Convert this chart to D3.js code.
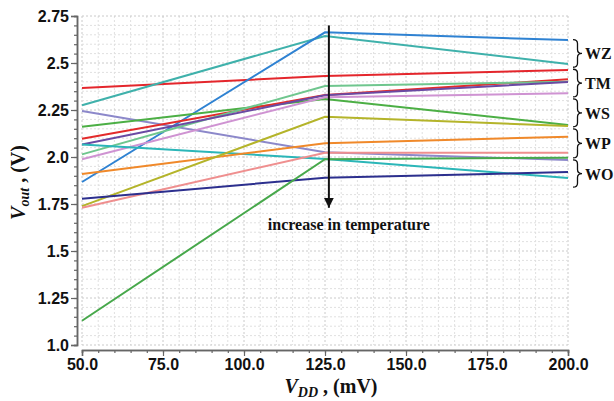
<!DOCTYPE html>
<html>
<head>
<meta charset="utf-8">
<script src="https://cdn.jsdelivr.net/npm/d3@7"></script>
<style>
  body { margin: 0; background: #fff; }
  svg { display: block; }
</style>
</head>
<body>
<div id="chart"></div>
<script>
const W = 614, H = 401;
const margin = {top: 16, right: 46, bottom: 56, left: 82};
const width = W - margin.left - margin.right;
const height = H - margin.top - margin.bottom;

// x positions of the three samples (mV)
const vdd = [50, 125, 200];

// Vout (V) at each VDD, one row per curve
const vout = [
    [2.367, 2.431, 2.463],
    [2.275, 2.644, 2.495],
    [1.867, 2.663, 2.622],
    [2.245, 2.025, 1.984],
    [2.161, 2.309, 2.170],
    [2.097, 2.330, 2.413],
    [2.014, 2.378, 2.400],
    [2.067, 2.328, 2.399],
    [1.988, 2.318, 2.339],
    [2.067, 1.990, 1.888],
    [1.910, 2.073, 2.108],
    [1.739, 2.214, 2.165],
    [1.730, 2.023, 2.023],
    [1.778, 1.890, 1.920],
    [1.129, 1.988, 1.996]
];
const colors = [
    "#e4262c", "#3fb1ab", "#2f82d2", "#8c88ca", "#4caf45",
    "#e32b2b", "#6fc68e", "#6a4aa3", "#cf93d2", "#2bb6b8",
    "#f0892a", "#b4b42a", "#ef8f8f", "#2c2f8e", "#47a84b"
];

const yTicks = [1.0, 1.25, 1.5, 1.75, 2.0, 2.25, 2.5, 2.75];
const yTickLabels = ["1.0", "1.25", "1.5", "1.75", "2.0", "2.25", "2.5", "2.75"];
const xTicks = [50, 75, 100, 125, 150, 175, 200];

// braces on the right: group name and its span in volts
const groups = ["WZ", "TM", "WS", "WP", "WO"];
const groupEdges = [2.63, 2.472, 2.314, 2.155, 1.99, 1.834];

const arrowX = 126.2;
const arrowTop = 2.7;
const arrowTip = 1.73;

var svg = d3.select("#chart")
    .append("svg")
    .attr("width", W)
    .attr("height", H)
    .append("g")
    .attr("transform", `translate(${margin.left}, ${margin.top})`);

var xScale = d3.scaleLinear().domain([50, 200]).range([0, width]);
var yScale = d3.scaleLinear().domain([1.0, 2.75]).range([height, 0]);

// dotted grid, major lines a bit darker
svg.append("g")
    .selectAll("line")
    .data(d3.range(50, 201, 5))
    .join("line")
    .attr("x1", d => xScale(d)).attr("x2", d => xScale(d))
    .attr("y1", 0).attr("y2", height)
    .attr("stroke", d => d % 25 === 0 ? "#cacaca" : "#e0e0e0")
    .attr("stroke-width", 1)
    .attr("stroke-dasharray", "2,2");

svg.append("g")
    .selectAll("line")
    .data(d3.range(0, 36).map(i => 1.0 + i * 0.05))
    .join("line")
    .attr("x1", 0).attr("x2", width)
    .attr("y1", d => yScale(d)).attr("y2", d => yScale(d))
    .attr("stroke", (d, i) => i % 5 === 0 ? "#cacaca" : "#e0e0e0")
    .attr("stroke-width", 1)
    .attr("stroke-dasharray", "2,2");

// axes, set a little off the plot area
var yAxisG = svg.append("g").attr("transform", "translate(-5, 0)");
yAxisG.call(d3.axisLeft(yScale)
        .tickValues(d3.range(0, 36).map(i => 1.0 + i * 0.05))
        .tickSize(3).tickFormat(""));
yAxisG.append("g").call(d3.axisLeft(yScale)
        .tickValues(yTicks)
        .tickSize(6)
        .tickFormat((d, i) => yTickLabels[i]));
yAxisG.selectAll("path.domain").attr("stroke", "#666").attr("stroke-width", 1.5);
yAxisG.selectAll("line").attr("stroke", "#666").attr("stroke-width", 1.2);
yAxisG.selectAll("text")
    .style("font-family", "'Liberation Sans', Arial, sans-serif")
    .style("font-weight", "bold")
    .style("font-size", "16px")
    .attr("fill", "#111")
    .attr("x", -8);

var xAxisG = svg.append("g").attr("transform", `translate(0, ${height + 5})`);
xAxisG.call(d3.axisBottom(xScale)
        .tickValues(d3.range(50, 201, 5))
        .tickSize(3).tickFormat(""));
xAxisG.append("g").call(d3.axisBottom(xScale)
        .tickValues(xTicks)
        .tickSize(6)
        .tickFormat(d => d.toFixed(1)));
xAxisG.selectAll("path.domain").attr("stroke", "#666").attr("stroke-width", 1.5);
xAxisG.selectAll("line").attr("stroke", "#666").attr("stroke-width", 1.2);
xAxisG.selectAll("text")
    .style("font-family", "'Liberation Sans', Arial, sans-serif")
    .style("font-weight", "bold")
    .style("font-size", "16px")
    .attr("fill", "#111")
    .attr("y", 9);

// curves
var line = d3.line()
    .x((d, i) => xScale(vdd[i]))
    .y(d => yScale(d));

svg.append("g")
    .selectAll("path")
    .data(vout)
    .join("path")
    .attr("fill", "none")
    .attr("stroke", (d, i) => colors[i])
    .attr("stroke-width", 2)
    .attr("d", line);

// temperature arrow
svg.append("defs").append("marker")
    .attr("id", "arrowhead")
    .attr("viewBox", "0 0 10 10")
    .attr("refX", 10).attr("refY", 5)
    .attr("markerWidth", 5).attr("markerHeight", 5)
    .attr("markerUnits", "strokeWidth")
    .attr("orient", "auto")
    .append("path")
    .attr("d", "M0,0 L10,5 L0,10 Z")
    .attr("fill", "#111");

svg.append("line")
    .attr("x1", xScale(arrowX)).attr("x2", xScale(arrowX))
    .attr("y1", yScale(arrowTop)).attr("y2", yScale(arrowTip))
    .attr("stroke", "#111")
    .attr("stroke-width", 2)
    .attr("marker-end", "url(#arrowhead)");

svg.append("text")
    .attr("x", xScale(arrowX) + 20)
    .attr("y", yScale(arrowTip) + 22)
    .attr("text-anchor", "middle")
    .style("font-family", "'Liberation Serif', 'Times New Roman', serif")
    .style("font-weight", "bold")
    .style("font-size", "16px")
    .attr("fill", "#111")
    .text("increase in temperature");

// braces with group labels
function bracePath(x, y0, y1) {
    var m = (y0 + y1) / 2, w = 4.5;
    return `M${x},${y0} Q${x + w},${y0} ${x + w},${y0 + 4}` +
        ` L${x + w},${m - 4} Q${x + w},${m} ${x + 2 * w},${m}` +
        ` Q${x + w},${m} ${x + w},${m + 4}` +
        ` L${x + w},${y1 - 4} Q${x + w},${y1} ${x},${y1}`;
}

var braceG = svg.append("g");
groups.forEach(function (g, i) {
    var y0 = yScale(groupEdges[i]), y1 = yScale(groupEdges[i + 1]);
    braceG.append("path")
        .attr("d", bracePath(width + 5, y0 + 1, y1 - 1))
        .attr("fill", "none")
        .attr("stroke", "#111")
        .attr("stroke-width", 1.3);
    braceG.append("text")
        .attr("x", width + 17)
        .attr("y", (y0 + y1) / 2 + 6)
        .style("font-family", "'Liberation Serif', 'Times New Roman', serif")
        .style("font-weight", "bold")
        .style("font-size", "16px")
        .attr("fill", "#111")
        .text(g);
});

// axis titles
var serif = "'Liberation Serif', 'Times New Roman', serif";
var xTitle = svg.append("text")
    .attr("x", width / 2 + 6)
    .attr("y", height + 48)
    .attr("text-anchor", "middle")
    .style("font-family", serif)
    .style("font-weight", "bold")
    .style("font-size", "20px")
    .attr("fill", "#111");
xTitle.append("tspan").style("font-style", "italic").text("V");
xTitle.append("tspan").style("font-style", "italic").style("font-size", "14px")
    .attr("dy", 4).text("DD");
xTitle.append("tspan").attr("dy", -4).text(" , (mV)");

var yTitle = svg.append("text")
    .attr("transform", `translate(${-margin.left + 25}, ${height / 2 + 2}) rotate(-90)`)
    .attr("text-anchor", "middle")
    .style("font-family", serif)
    .style("font-weight", "bold")
    .style("font-size", "20px")
    .attr("fill", "#111");
yTitle.append("tspan").style("font-style", "italic").text("V");
yTitle.append("tspan").style("font-style", "italic").style("font-size", "14px")
    .attr("dy", 4).text("out");
yTitle.append("tspan").attr("dy", -4).text(" , (V)");
</script>
</body>
</html>
